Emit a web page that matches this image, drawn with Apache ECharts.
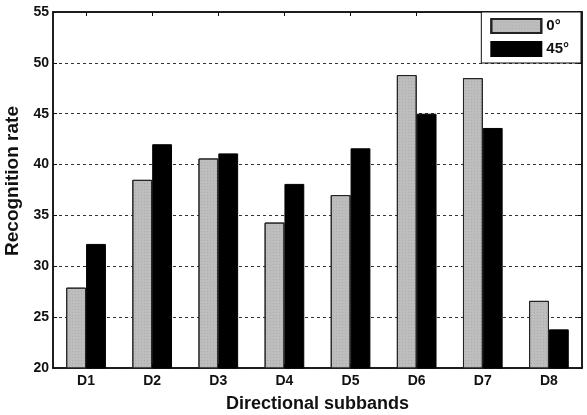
<!DOCTYPE html>
<html><head><meta charset="utf-8">
<script src="https://cdn.jsdelivr.net/npm/echarts@6/dist/echarts.min.js"></script>
<style>html,body{margin:0;padding:0;background:#fff}#c{width:587px;height:415px}</style>
</head><body><div id="c"></div>
<script>
var categories = ['D1','D2','D3','D4','D5','D6','D7','D8'];
var seriesNames = ['0°','45°'];
var values0 = [27.9, 38.5, 40.6, 34.3, 37.0, 48.8, 48.5, 26.6];
var values45 = [32.2, 42.0, 41.1, 38.1, 41.6, 45.0, 43.6, 23.8];
var yTicks = [20, 25, 30, 35, 40, 45, 50, 55];

var chart = echarts.init(document.getElementById('c'));
var font = 'Liberation Sans, Arial, sans-serif';
chart.setOption({
  animation: false,
  textStyle: {fontFamily: font},
  grid: {left: 53, right: 5, top: 12, bottom: 47, show: true, borderColor: '#111', borderWidth: 1.5,
    containLabel: false, outerBoundsMode: 'none'},
  legend: {
    orient: 'vertical', right: 6, top: 12, itemWidth: 50, itemHeight: 14, itemGap: 7,
    icon: 'rect',
    padding: [6, 12, 6, 9], borderColor: '#111', borderWidth: 1, backgroundColor: '#fff',
    textStyle: {fontFamily: font, fontWeight: 'bold', fontSize: 15, color: '#111'},
    data: seriesNames
  },
  xAxis: [{
    type: 'category', data: categories, position: 'bottom',
    name: 'Directional subbands', nameLocation: 'middle', nameGap: 27,
    nameTextStyle: {fontFamily: font, fontWeight: 'bold', fontSize: 18, color: '#111'},
    axisLine: {lineStyle: {color: '#111', width: 1.5}},
    axisTick: {show: true, inside: true, alignWithLabel: true, length: 4, lineStyle: {color: '#111'}},
    axisLabel: {fontFamily: font, fontWeight: 'bold', fontSize: 14, color: '#111', margin: 6},
    splitLine: {show: false}
  }, {
    type: 'category', data: categories, position: 'top',
    axisLine: {lineStyle: {color: '#111', width: 1.5}},
    axisTick: {show: true, inside: true, alignWithLabel: true, length: 4, lineStyle: {color: '#111'}},
    axisLabel: {show: false}
  }],
  yAxis: [{
    type: 'value', min: 20, max: 55, interval: 5,
    name: 'Recognition rate', nameLocation: 'middle', nameGap: 26,
    nameTextStyle: {fontFamily: font, fontWeight: 'bold', fontSize: 19, color: '#111', padding: [0, 0, 0, 18]},
    axisLine: {show: true, lineStyle: {color: '#111', width: 1.5}},
    axisTick: {show: true, inside: true, length: 4, lineStyle: {color: '#111'}},
    axisLabel: {fontFamily: font, fontWeight: 'bold', fontSize: 14, color: '#111', margin: 4,
      formatter: function (v) { return yTicks.indexOf(v) >= 0 ? String(v) : ''; }},
    splitLine: {show: true, lineStyle: {color: '#333', type: [3, 3], width: 1}}
  }, {
    type: 'value', min: 20, max: 55, interval: 5, position: 'right',
    axisLine: {show: true, lineStyle: {color: '#111', width: 1.5}},
    axisTick: {show: true, inside: true, length: 4, lineStyle: {color: '#111'}},
    axisLabel: {show: false}, splitLine: {show: false}
  }],
  series: [{
    name: seriesNames[0], type: 'bar', data: values0, barGap: '0%', barCategoryGap: '40%',
    itemStyle: {color: '#bdbdbd', borderColor: '#222', borderWidth: 1,
      decal: {symbol: 'rect', symbolSize: 0.5, dashArrayX: [1, 2], dashArrayY: [1, 2], color: 'rgba(90,90,90,0.6)', rotation: 0}}
  }, {
    name: seriesNames[1], type: 'bar', data: values45, barGap: '0%', barCategoryGap: '40%',
    itemStyle: {color: '#000', borderColor: '#000', borderWidth: 1}
  }]
});
</script></body></html>
